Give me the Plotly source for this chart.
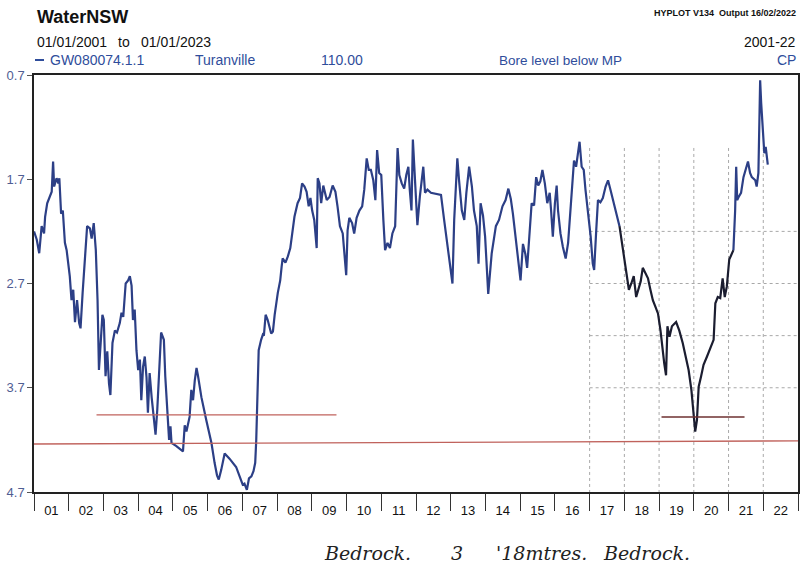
import plotly.graph_objects as go

# ---------------- data ----------------
years = [
    2001.00, 2001.08, 2001.15, 2001.22, 2001.29, 2001.32, 2001.38, 2001.46, 2001.51, 2001.55,
    2001.58, 2001.65, 2001.70, 2001.73, 2001.78, 2001.83, 2001.89, 2001.94, 2002.03, 2002.08,
    2002.13, 2002.18, 2002.24, 2002.30, 2002.34, 2002.40, 2002.47, 2002.53, 2002.61, 2002.66,
    2002.72, 2002.78, 2002.83, 2002.87, 2002.92, 2002.97, 2003.01, 2003.06, 2003.11, 2003.16,
    2003.20, 2003.26, 2003.33, 2003.39, 2003.47, 2003.52, 2003.57, 2003.64, 2003.71, 2003.76,
    2003.81, 2003.85, 2003.90, 2003.95, 2004.00, 2004.05, 2004.09, 2004.14, 2004.19, 2004.24,
    2004.28, 2004.33, 2004.39, 2004.45, 2004.50, 2004.55, 2004.62, 2004.66, 2004.74, 2004.78,
    2004.89, 2004.93, 2004.96, 2005.10, 2005.29, 2005.34, 2005.39, 2005.48, 2005.53, 2005.58,
    2005.63, 2005.68, 2005.72, 2005.82, 2005.96, 2006.11, 2006.20, 2006.27, 2006.32, 2006.39,
    2006.49, 2006.63, 2006.82, 2006.97, 2007.01, 2007.06, 2007.13, 2007.19, 2007.26, 2007.32,
    2007.37, 2007.40, 2007.42, 2007.45, 2007.47, 2007.54, 2007.59, 2007.62, 2007.67, 2007.73,
    2007.83, 2007.88, 2007.93, 2008.02, 2008.09, 2008.13, 2008.16, 2008.24, 2008.31, 2008.38,
    2008.43, 2008.50, 2008.59, 2008.66, 2008.72, 2008.79, 2008.85, 2008.91, 2008.96, 2009.01,
    2009.07, 2009.14, 2009.17, 2009.22, 2009.27, 2009.33, 2009.43, 2009.51, 2009.60, 2009.68,
    2009.74, 2009.81, 2009.89, 2009.94, 2009.99, 2010.03, 2010.08, 2010.16, 2010.22, 2010.29,
    2010.37, 2010.45, 2010.51, 2010.58, 2010.64, 2010.70, 2010.77, 2010.83, 2010.88, 2010.94,
    2011.00, 2011.06, 2011.11, 2011.18, 2011.25, 2011.32, 2011.40, 2011.47, 2011.52, 2011.59,
    2011.66, 2011.72, 2011.78, 2011.82, 2011.87, 2011.91, 2011.97, 2012.04, 2012.11, 2012.17,
    2012.21, 2012.26, 2012.33, 2012.43, 2012.57, 2012.72, 2012.81, 2012.91, 2012.98, 2013.05,
    2013.10, 2013.15, 2013.19, 2013.24, 2013.32, 2013.39, 2013.45, 2013.53, 2013.61, 2013.67,
    2013.75, 2013.80, 2013.86, 2013.93, 2013.99, 2014.08, 2014.18, 2014.30, 2014.39, 2014.49,
    2014.58, 2014.66, 2014.73, 2014.79, 2014.87, 2014.95, 2015.01, 2015.08, 2015.15, 2015.20,
    2015.25, 2015.33, 2015.40, 2015.46, 2015.52, 2015.58, 2015.64, 2015.71, 2015.78, 2015.85,
    2015.89, 2015.94, 2016.00, 2016.05, 2016.09, 2016.16, 2016.23, 2016.31, 2016.38, 2016.45,
    2016.50, 2016.55, 2016.61, 2016.67, 2016.71, 2016.77, 2016.83, 2016.88, 2016.95, 2017.03,
    2017.09, 2017.13, 2017.19, 2017.24, 2017.31, 2017.38, 2017.46, 2017.53, 2017.60, 2017.70,
    2017.79, 2017.86, 2017.93, 2018.01, 2018.08, 2018.13, 2018.20, 2018.27, 2018.34, 2018.41,
    2018.47, 2018.53, 2018.61, 2018.68, 2018.75, 2018.82, 2018.89, 2018.97, 2019.04, 2019.10,
    2019.15, 2019.20, 2019.24, 2019.30, 2019.37, 2019.49, 2019.58, 2019.68, 2019.77, 2019.85,
    2019.93, 2019.99, 2020.04, 2020.09, 2020.14, 2020.21, 2020.28, 2020.38, 2020.47, 2020.57,
    2020.62, 2020.69, 2020.76, 2020.83, 2020.89, 2020.95, 2021.02, 2021.08, 2021.14, 2021.19,
    2021.22, 2021.25, 2021.29, 2021.36, 2021.43, 2021.50, 2021.56, 2021.62, 2021.67, 2021.77,
    2021.81, 2021.86, 2021.91, 2021.94, 2021.98, 2022.03, 2022.07, 2022.13,
]
bore_level = [
    2.20, 2.28, 2.41, 2.15, 2.22, 2.06, 1.93, 1.87, 1.82, 1.53,
    1.77, 1.69, 1.74, 1.69, 2.03, 2.00, 2.31, 2.38, 2.63, 2.86,
    2.76, 3.07, 2.86, 3.08, 3.13, 2.79, 2.38, 2.15, 2.17, 2.27,
    2.12, 2.38, 2.86, 3.53, 3.27, 3.00, 3.05, 3.59, 3.35, 3.66,
    3.77, 3.27, 3.15, 3.17, 3.08, 2.98, 3.02, 2.70, 2.67, 2.63,
    2.72, 3.05, 2.95, 3.34, 3.53, 3.43, 3.82, 3.50, 3.40, 3.60,
    3.94, 3.56, 3.80, 3.98, 4.15, 3.91, 3.50, 3.17, 3.24, 3.59,
    4.20, 4.07, 4.23, 4.26, 4.31, 4.06, 4.12, 3.98, 3.72, 3.82,
    3.63, 3.51, 3.58, 3.79, 4.01, 4.23, 4.42, 4.54, 4.58, 4.49,
    4.33, 4.38, 4.46, 4.58, 4.63, 4.62, 4.68, 4.57, 4.55, 4.50,
    4.42, 4.20, 3.90, 3.59, 3.34, 3.24, 3.19, 3.20, 3.00, 3.05,
    3.18, 3.16, 3.00, 2.79, 2.67, 2.54, 2.46, 2.50, 2.44, 2.36,
    2.25, 2.06, 1.93, 1.88, 1.74, 1.77, 1.82, 1.96, 1.88, 2.00,
    2.09, 2.36, 1.69, 1.74, 1.93, 1.76, 1.90, 1.87, 1.76, 1.82,
    1.96, 2.15, 2.22, 2.41, 2.62, 2.19, 2.07, 2.12, 2.22, 2.07,
    2.00, 1.96, 1.80, 1.50, 1.61, 1.61, 1.71, 1.90, 1.42, 1.64,
    1.66, 2.09, 2.38, 2.31, 2.36, 2.22, 2.15, 1.40, 1.66, 1.74,
    1.79, 1.66, 1.58, 1.80, 2.00, 1.32, 1.77, 2.14, 1.87, 1.71,
    1.58, 1.83, 1.80, 1.83, 1.84, 1.85, 2.09, 2.35, 2.51, 2.70,
    2.09, 1.74, 1.50, 1.71, 2.00, 2.09, 1.83, 1.58, 1.77, 2.00,
    2.15, 2.51, 1.93, 2.05, 2.25, 2.80, 2.41, 2.15, 2.09, 1.96,
    1.90, 1.79, 1.89, 2.03, 2.28, 2.47, 2.67, 2.32, 2.42, 2.55,
    2.28, 1.93, 1.95, 1.68, 1.76, 1.72, 1.61, 1.74, 1.93, 1.83,
    2.00, 2.25, 1.93, 1.76, 2.00, 2.22, 2.35, 2.46, 2.31, 2.00,
    1.83, 1.52, 1.58, 1.45, 1.34, 1.58, 1.61, 1.80, 2.00, 2.25,
    2.51, 2.57, 2.19, 1.90, 1.92, 1.88, 1.77, 1.71, 1.80, 1.93,
    2.06, 2.15, 2.31, 2.47, 2.63, 2.76, 2.70, 2.63, 2.83, 2.76,
    2.68, 2.55, 2.60, 2.65, 2.76, 2.86, 2.92, 2.99, 3.15, 3.34,
    3.47, 3.58, 3.11, 3.21, 3.11, 3.07, 3.15, 3.27, 3.40, 3.53,
    3.72, 3.95, 4.12, 4.01, 3.69, 3.59, 3.48, 3.40, 3.32, 3.24,
    2.89, 2.83, 2.84, 2.65, 2.83, 2.73, 2.47, 2.43, 2.38, 2.00,
    1.58, 1.90, 1.87, 1.83, 1.68, 1.61, 1.53, 1.64, 1.68, 1.71,
    1.77, 1.64, 0.75, 0.97, 1.20, 1.45, 1.39, 1.56,
]
# period where the photocopied trace prints darker
dark_start = 2017.86
dark_end = 2021.14

# hand-drawn "bedrock" strokes (start/end year, start/end level)
bedrock_long_x = [2001.0, 2023.0]
bedrock_long_y = [4.24, 4.21]
bedrock_left_x = [2002.80, 2009.71]
bedrock_left_y = [3.96, 3.96]
bedrock_right_x = [2019.07, 2021.46]
bedrock_right_y = [3.98, 3.98]

year_labels = ["01", "02", "03", "04", "05", "06", "07", "08", "09", "10", "11",
               "12", "13", "14", "15", "16", "17", "18", "19", "20", "21", "22"]
y_ticks = [0.7, 1.7, 2.7, 3.7, 4.7]
y_ticklabels = ["0.7", "1.7", "2.7", "3.7", "4.7"]

# faint photocopied grid (visible only on the right part of the sheet)
grid_years = [2017, 2018, 2019, 2020, 2021, 2022]
grid_levels = [2.2, 2.7, 3.2, 3.7]

# ---------------- figure ----------------
FONT = "Liberation Sans, Arial, sans-serif"
BLUE = "#2c3f86"
DARK = "#1b1d30"
TXTBLUE = "#2f4d9b"

def segment(lo, hi):
    xs, ys = [], []
    for x, y in zip(years, bore_level):
        if lo <= x <= hi:
            xs.append(x)
            ys.append(y)
    return xs, ys

fig = go.Figure()

for lo, hi, col in [(0, dark_start, BLUE), (dark_start, dark_end, DARK), (dark_end, 9999, BLUE)]:
    xs, ys = segment(lo, hi)
    fig.add_trace(go.Scatter(x=xs, y=ys, mode="lines",
                             line=dict(color=col, width=2.2), showlegend=False,
                             hoverinfo="skip"))

fig.add_trace(go.Scatter(x=bedrock_long_x, y=bedrock_long_y, mode="lines",
                         line=dict(color="#c0625c", width=1.4), showlegend=False))
fig.add_trace(go.Scatter(x=bedrock_left_x, y=bedrock_left_y, mode="lines",
                         line=dict(color="#c0625c", width=1.4), showlegend=False))
fig.add_trace(go.Scatter(x=bedrock_right_x, y=bedrock_right_y, mode="lines",
                         line=dict(color="#6e3030", width=1.6), showlegend=False))

shapes = []
for gy in grid_years:
    shapes.append(dict(type="line", xref="x", yref="y", x0=gy, x1=gy, y0=1.4, y1=4.7,
                       line=dict(color="#a8a8a8", width=1, dash="dot"), layer="below"))
for gl in grid_levels:
    shapes.append(dict(type="line", xref="x", yref="y", x0=2017, x1=2023, y0=gl, y1=gl,
                       line=dict(color="#a8a8a8", width=1, dash="dot"), layer="below"))
# legend swatch in the header row
shapes.append(dict(type="line", xref="paper", yref="paper",
                   x0=(35 - 34) / 766.0, x1=(44 - 34) / 766.0,
                   y0=(492 - 60) / 417.0, y1=(492 - 60) / 417.0,
                   line=dict(color="#2f4d9b", width=2)))

fig.update_layout(
    width=803, height=574,
    margin=dict(l=34, r=3, t=75, b=82),
    paper_bgcolor="white", plot_bgcolor="white",
    font=dict(family=FONT, size=13, color="#222"),
    shapes=shapes,
    showlegend=False,
)

fig.update_xaxes(
    range=[2001, 2023],
    tickmode="array",
    tickvals=[2001.5 + i for i in range(len(year_labels))],
    ticktext=year_labels,
    ticks="outside", ticklen=6, tickcolor="rgba(0,0,0,0)",
    tickfont=dict(family=FONT, size=13, color="#111"),
    minor=dict(tick0=2001, dtick=1, ticks="outside", ticklen=17, tickwidth=1,
               tickcolor="#333", showgrid=False),
    showgrid=False, zeroline=False,
    showline=True, linecolor="#222", linewidth=1.5, mirror=True,
)
fig.update_yaxes(
    range=[4.7, 0.7],
    tickmode="array", tickvals=y_ticks, ticktext=y_ticklabels,
    ticks="outside", ticklen=5, tickcolor="#555",
    tickfont=dict(family=FONT, size=13, color="#4f5d93"),
    showgrid=False, zeroline=False,
    showline=True, linecolor="#222", linewidth=1.5, mirror=True,
)

def px_x(px):
    return (px - 34) / 766.0

def px_y(py):
    return (492 - py) / 417.0

HAND = dict(family="DejaVu Serif, serif", size=19, color="#222")
ann = [
    dict(text="<b>WaterNSW</b>", x=px_x(35), y=px_y(17), xanchor="left",
         font=dict(size=18, color="#111")),
    dict(text="01/01/2001", x=px_x(35), y=px_y(42), xanchor="left",
         font=dict(size=14, color="#111")),
    dict(text="to", x=px_x(116), y=px_y(42), xanchor="left",
         font=dict(size=14, color="#111")),
    dict(text="01/01/2023", x=px_x(139), y=px_y(42), xanchor="left",
         font=dict(size=14, color="#111")),
    dict(text="GW080074.1.1", x=px_x(48), y=px_y(60), xanchor="left",
         font=dict(size=14, color=TXTBLUE)),
    dict(text="Turanville", x=px_x(193), y=px_y(60), xanchor="left",
         font=dict(size=14, color=TXTBLUE)),
    dict(text="110.00", x=px_x(320), y=px_y(60), xanchor="left",
         font=dict(size=14, color=TXTBLUE)),
    dict(text="Bore level below MP", x=px_x(498), y=px_y(60), xanchor="left",
         font=dict(size=13.5, color=TXTBLUE)),
    dict(text="CP", x=px_x(800), y=px_y(60), xanchor="right",
         font=dict(size=14, color=TXTBLUE)),
    dict(text="2001-22", x=px_x(800), y=px_y(42), xanchor="right",
         font=dict(size=14, color="#111")),
    dict(text="<b>HYPLOT V134  Output 16/02/2022</b>", x=px_x(800), y=px_y(13), xanchor="right",
         font=dict(size=9, color="#111")),
    dict(text="<i>Bedrock.</i>", x=px_x(323), y=px_y(553), xanchor="left", font=HAND),
    dict(text="<i>3</i>", x=px_x(450), y=px_y(553), xanchor="left", font=HAND),
    dict(text="<i>'18mtres.</i>", x=px_x(495), y=px_y(553), xanchor="left", font=HAND),
    dict(text="<i>Bedrock.</i>", x=px_x(602), y=px_y(553), xanchor="left", font=HAND),
]
for a in ann:
    a.setdefault("xref", "paper")
    a.setdefault("yref", "paper")
    a.setdefault("yanchor", "middle")
    a.setdefault("showarrow", False)
    fig.add_annotation(**a)

fig.write_html("out.html")
